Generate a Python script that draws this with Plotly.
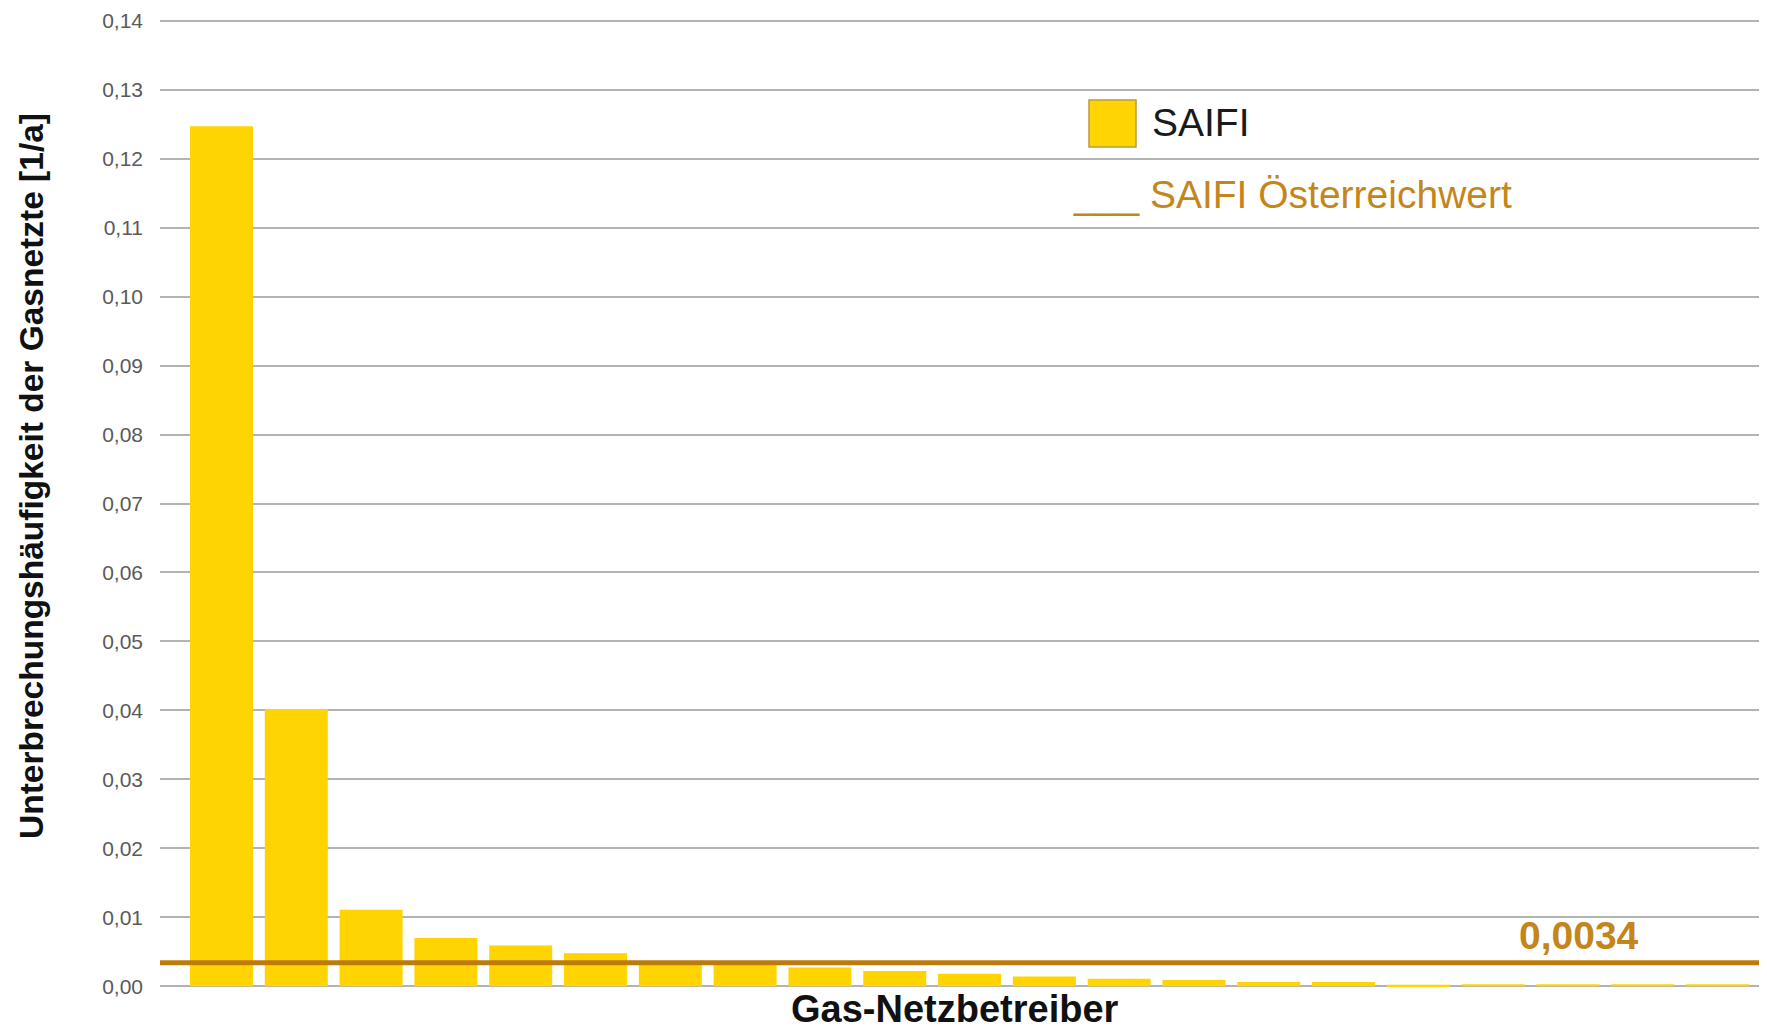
import plotly.graph_objects as go

# SAIFI je Gas-Netzbetreiber (absteigend sortiert)
betreiber = ["NB 1", "NB 2", "NB 3", "NB 4", "NB 5", "NB 6", "NB 7", "NB 8", "NB 9", "NB 10", "NB 11",
             "NB 12", "NB 13", "NB 14", "NB 15", "NB 16", "NB 17", "NB 18", "NB 19", "NB 20", "NB 21"]
saifi = [0.1247, 0.0402, 0.0111, 0.0070, 0.0059, 0.0048, 0.0035, 0.0034, 0.0027, 0.0022, 0.0018,
         0.0014, 0.0011, 0.0009, 0.0006, 0.0006, 0.0002, 0.0003, 0.0003, 0.0003, 0.0003]
oesterreich_wert = 0.0034

y_ticks = [0.00, 0.01, 0.02, 0.03, 0.04, 0.05, 0.06, 0.07, 0.08, 0.09, 0.10, 0.11, 0.12, 0.13, 0.14]

gelb = "#FFD400"
braun = "#BC7B0A"
braun_text = "#C4861A"
font = "Liberation Sans, Arial, sans-serif"

# page has 8px body margin -> figure starts at (8, 8)
W, H = 1767, 1023
L, R, T, B = 152, 0, 10, 42
pw, ph = W - L - R, H - T - B


def px(x):  # window pixel -> paper x
    return (x - 8 - L) / pw


def py(y):  # window pixel -> paper y
    return (H - B - (y - 8)) / ph


fig = go.Figure()
fig.add_trace(go.Bar(x=betreiber, y=saifi, marker=dict(color=gelb, line=dict(width=0)),
                     name="SAIFI", showlegend=False))

# Oesterreichwert als durchgehende Linie
fig.add_hline(y=oesterreich_wert, line=dict(color=braun, width=5), layer="above")

fig.add_annotation(x=px(1579), xref="paper", y=oesterreich_wert, yref="y",
                   text=f"{oesterreich_wert:.4f}".replace(".", ","), showarrow=False,
                   xanchor="center", yanchor="bottom", yshift=4,
                   font=dict(family=font, size=39, color=braun_text, weight="bold"))

# legend drawn by hand (big swatch)
fig.add_shape(type="rect", xref="paper", yref="paper",
              x0=px(1089), x1=px(1136), y0=py(147), y1=py(100),
              fillcolor=gelb, line=dict(color="#B89A40", width=1.5))
fig.add_annotation(x=px(1150), xref="paper", y=py(122), yref="paper",
                   text="SAIFI", showarrow=False, xanchor="left", yanchor="middle",
                   font=dict(family=font, size=39, color="#1a1a1a"))
fig.add_annotation(x=px(1071), xref="paper", y=py(194), yref="paper",
                   text="___ SAIFI Österreichwert", showarrow=False, xanchor="left", yanchor="middle",
                   font=dict(family=font, size=39, color=braun_text))

# axis titles
fig.add_annotation(x=px(31), xref="paper", y=py(476), yref="paper",
                   text="Unterbrechungshäufigkeit der Gasnetzte [1/a]", textangle=-90, showarrow=False,
                   xanchor="center", yanchor="middle",
                   font=dict(family=font, size=33.5, color="#111111", weight="bold"))
fig.add_annotation(x=px(955), xref="paper", y=py(1031), yref="paper",
                   text="Gas-Netzbetreiber", showarrow=False, xanchor="center", yanchor="bottom",
                   borderpad=0,
                   font=dict(family=font, size=38, color="#111111", weight="bold"))

fig.update_layout(
    width=W, height=H,
    margin=dict(l=L, r=R, t=T, b=B),
    paper_bgcolor="white", plot_bgcolor="white",
    separators=",.",
    bargap=0.158,
    font=dict(family=font),
    xaxis=dict(range=[-0.822, 20.767], showticklabels=False, showgrid=False, zeroline=False,
               showline=False, ticks=""),
    yaxis=dict(range=[-0.0004, 0.1404], tickvals=y_ticks, tickformat=".2f",
               showgrid=True, gridcolor="#B3B3B3", gridwidth=2,
               zeroline=True, zerolinecolor="#B3B3B3", zerolinewidth=2,
               showline=False, ticks="", ticklabelstandoff=16,
               tickfont=dict(family=font, size=21, color="#5A5A5A")),
)

fig.write_html("out.html")
